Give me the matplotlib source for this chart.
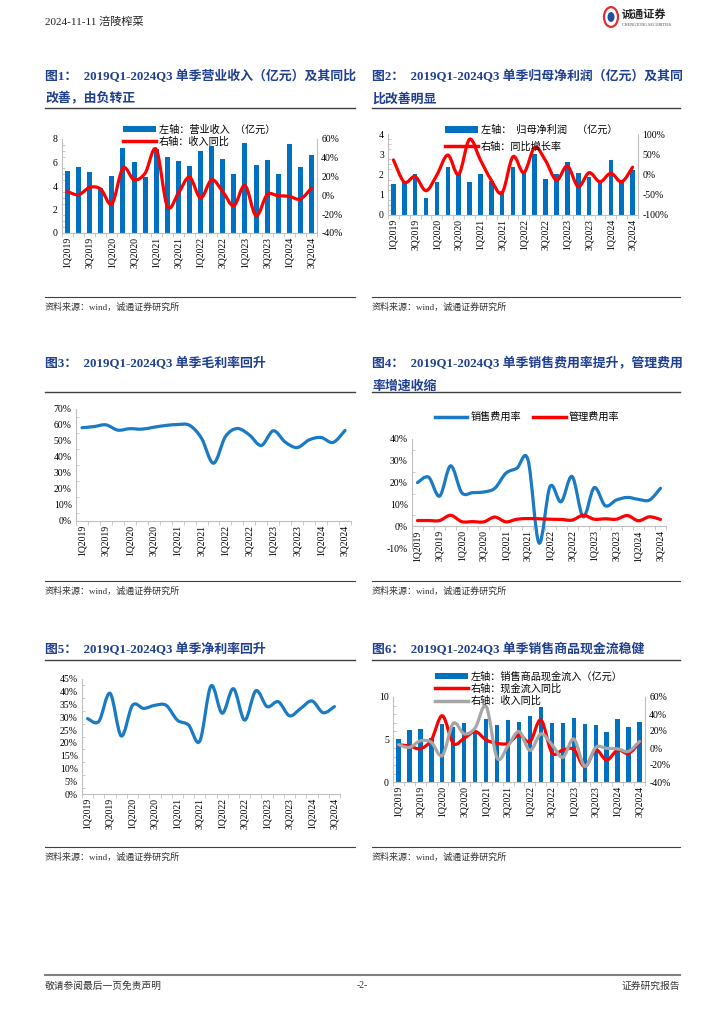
import numpy as np
import matplotlib
matplotlib.use('Agg')
import matplotlib.pyplot as plt
from matplotlib.path import Path
from matplotlib.patches import PathPatch, Rectangle, Circle
from matplotlib.lines import Line2D
from matplotlib.ticker import FuncFormatter, MultipleLocator

plt.rcParams['font.family'] = ['Liberation Serif', 'Noto Sans CJK SC']
plt.rcParams['axes.unicode_minus'] = False

quarters = ['1Q2019', '2Q2019', '3Q2019', '4Q2019', '1Q2020', '2Q2020', '3Q2020', '4Q2020',
            '1Q2021', '2Q2021', '3Q2021', '4Q2021', '1Q2022', '2Q2022', '3Q2022', '4Q2022',
            '1Q2023', '2Q2023', '3Q2023', '4Q2023', '1Q2024', '2Q2024', '3Q2024']

# fig1: revenue (100m yuan) and yoy
revenue = [5.3, 5.65, 5.2, 3.87, 4.86, 7.2, 6.05, 4.75, 7.17, 6.44, 6.13, 5.68,
           6.95, 7.4, 6.3, 5.06, 7.68, 5.79, 6.21, 5.03, 7.57, 5.62, 6.64]
revenue_yoy = [0.04, 0.007, 0.085, 0.067, -0.09, 0.29, 0.166, 0.237, 0.49, -0.117, 0.025, 0.194,
               -0.028, 0.166, 0.04, -0.11, 0.106, -0.216, 0.007, -0.004, -0.01, -0.039, 0.078]

# fig2: net profit attributable and yoy
profit = [1.53, 1.65, 2.02, 0.86, 1.63, 2.39, 2.06, 1.61, 2.02, 1.7, 1.2, 2.39,
          2.14, 3.0, 1.78, 2.02, 2.6, 2.09, 1.86, 1.65, 2.72, 1.65, 2.22]
profit_yoy = [0.36, -0.19, -0.05, -0.40, -0.01, 0.48, 0.0, 0.87, 0.36, -0.14, -0.45, 0.44,
              0.045, 0.67, 0.34, -0.14, 0.21, -0.30, 0.045, -0.18, 0.03, -0.18, 0.18]

# fig3: gross margin
gross_margin = [0.583, 0.59, 0.601, 0.568, 0.577, 0.574, 0.586, 0.597, 0.603, 0.598, 0.517, 0.361,
                0.528, 0.578, 0.538, 0.472, 0.564, 0.493, 0.459, 0.507, 0.522, 0.491, 0.566]

# fig4: expense ratios
selling_rate = [0.20, 0.225, 0.138, 0.277, 0.154, 0.154, 0.157, 0.174, 0.243, 0.266, 0.305, -0.077,
                0.182, 0.112, 0.228, 0.043, 0.177, 0.094, 0.12, 0.132, 0.123, 0.12, 0.174]
admin_rate = [0.026, 0.026, 0.026, 0.05, 0.021, 0.021, 0.02, 0.042, 0.02, 0.032, 0.035, 0.034,
              0.032, 0.031, 0.028, 0.05, 0.032, 0.034, 0.032, 0.049, 0.025, 0.043, 0.031]

# fig5: net margin
net_margin = [0.295, 0.284, 0.394, 0.227, 0.347, 0.335, 0.347, 0.347, 0.289, 0.27, 0.207, 0.423,
              0.316, 0.412, 0.289, 0.404, 0.342, 0.361, 0.306, 0.335, 0.364, 0.318, 0.342]

# fig6: cash received from sales and yoy
cash_in = [5.06, 6.1, 6.27, 5.18, 6.86, 6.5, 6.94, 5.9, 7.4, 6.7, 7.3, 7.1,
           7.76, 8.8, 6.9, 6.9, 7.57, 6.86, 6.75, 5.9, 7.4, 6.47, 7.1]
cash_yoy = [0.036, 0.024, -0.008, 0.095, 0.38, 0.055, 0.115, 0.194, 0.095, 0.055, 0.055, 0.154,
            0.075, 0.33, -0.055, -0.024, -0.016, -0.22, -0.024, -0.142, -0.024, -0.063, 0.063]

W, H = 724, 1024
BLUE = '#0070C0'
LBLUE = '#1A7AC4'
RED = '#FF0000'
GREY = '#A6A6A6'
AXC = '#BFBFBF'
NAVY = '#1F3F8F'

fig = plt.figure(figsize=(W / 100, H / 100), dpi=100)


def box(x0, y0, x1, y1):
    return fig.add_axes([x0 / W, 1 - y1 / H, (x1 - x0) / W, (y1 - y0) / H])


def ftext(x, y, s, **kw):
    fig.text(x / W, 1 - y / H, s, **kw)


def hline(x0, x1, y, color='#404040', lw=1.0):
    fig.add_artist(Line2D([x0 / W, x1 / W], [1 - y / H, 1 - y / H], color=color, lw=lw))


pct = FuncFormatter(lambda v, pos: f'{v * 100:.0f}%')


def smooth(ax, y, color, lw=2.3, z=3):
    y = np.asarray(y, float)
    n = len(y)
    x = np.arange(n, dtype=float)
    verts = [(x[0], y[0])]
    codes = [Path.MOVETO]
    for i in range(n - 1):
        i0 = max(i - 1, 0)
        i3 = min(i + 2, n - 1)
        c1 = (x[i] + (x[i + 1] - x[i0]) / 6, y[i] + (y[i + 1] - y[i0]) / 6)
        c2 = (x[i + 1] - (x[i3] - x[i]) / 6, y[i + 1] - (y[i3] - y[i]) / 6)
        verts += [c1, c2, (x[i + 1], y[i + 1])]
        codes += [Path.CURVE4] * 3
    ax.add_patch(PathPatch(Path(verts, codes), fill=False, ec=color, lw=lw,
                           capstyle='round', joinstyle='round', zorder=z))


def style(ax, ylim, step, minor, fmt=None):
    ax.set_xlim(-0.5, 22.5)
    ax.set_xticks(range(23))
    ax.set_xticklabels([q if i % 2 == 0 else '' for i, q in enumerate(quarters)],
                       rotation=90, fontsize=7)
    ax.set_xticks(np.arange(-0.5, 23, 1), minor=True)
    ax.tick_params(axis='x', which='major', length=0, pad=3)
    ax.tick_params(axis='x', which='minor', length=3, color=AXC, width=0.6)
    ax.set_ylim(*ylim)
    ax.yaxis.set_major_locator(MultipleLocator(step))
    ax.yaxis.set_minor_locator(MultipleLocator(minor))
    ax.tick_params(axis='y', which='major', length=0, labelsize=7, pad=3)
    ax.tick_params(axis='y', which='minor', length=2, direction='in', color=AXC, width=0.6)
    if fmt is not None:
        ax.yaxis.set_major_formatter(fmt)
    for s in ['top', 'right']:
        ax.spines[s].set_visible(False)
    for s in ['left', 'bottom']:
        ax.spines[s].set_color(AXC)
        ax.spines[s].set_linewidth(0.8)
    ax.patch.set_alpha(0)


def style_right(ax2, ylim, step):
    ax2.set_ylim(*ylim)
    ax2.yaxis.set_major_locator(MultipleLocator(step))
    ax2.yaxis.set_major_formatter(pct)
    ax2.tick_params(axis='y', length=0, labelsize=7, pad=3)
    for s in ['top', 'left', 'bottom']:
        ax2.spines[s].set_visible(False)
    ax2.spines['right'].set_color(AXC)
    ax2.spines['right'].set_linewidth(0.8)


def bar_handle():
    return Rectangle((0, 0), 1, 1, fc=BLUE, ec='none')


def line_handle(c):
    return Line2D([], [], color=c, lw=2.5)


x = np.arange(23)

# header / footer
ftext(45, 22, '2024-11-11 涪陵榨菜', fontsize=8, va='center', color='#222222')
fig.add_artist(Circle((611 / W, 1 - 17 / H), 7 / W, transform=fig.transFigure,
                      fc='white', ec='#E03030', lw=1.6))
fig.add_artist(Circle((611 / W, 1 - 17 / H), 3.5 / W, transform=fig.transFigure,
                      fc='#2050A0', ec='none'))
ftext(622, 14, '诚通证券', fontsize=8, fontweight='bold', va='center', color='#222222')
ftext(622, 25, 'CHENGTONG SECURITIES', fontsize=3, va='center', color='#444444')
hline(45, 680, 975, color='#808080', lw=1.5)
ftext(45, 986, '敬请参阅最后一页免责声明', fontsize=7, va='center', color='#333333')
ftext(362, 986, '-2-', fontsize=7, va='center', ha='center', color='#333333')
ftext(680, 986, '证券研究报告', fontsize=7, va='center', ha='right', color='#333333')

# titles, rules and sources
tkw = dict(fontsize=9.3, fontweight='bold', color=NAVY, va='center')
ftext(45, 77, '图1：  2019Q1-2024Q3 单季营业收入（亿元）及其同比', **tkw)
ftext(45, 99, '改善，由负转正', **tkw)
ftext(372, 77, '图2：  2019Q1-2024Q3 单季归母净利润（亿元）及其同', **tkw)
ftext(372, 99, '比改善明显', **tkw)
ftext(45, 364, '图3：  2019Q1-2024Q3 单季毛利率回升', **tkw)
ftext(372, 364, '图4：  2019Q1-2024Q3 单季销售费用率提升，管理费用', **tkw)
ftext(372, 386, '率增速收缩', **tkw)
ftext(45, 650, '图5：  2019Q1-2024Q3 单季净利率回升', **tkw)
ftext(372, 650, '图6：  2019Q1-2024Q3 单季销售商品现金流稳健', **tkw)

for y_rule, y_src, y_txt in [(108, 297, 307), (392, 581, 591), (660, 847, 857)]:
    for x0, x1 in [(45, 355), (372, 680)]:
        hline(x0, x1, y_rule, lw=1.0)
        hline(x0, x1, y_src, lw=0.8)
        ftext(x0, y_txt, '资料来源：wind，诚通证券研究所', fontsize=6.5, va='center', color='#333333')

# fig1
ax = box(62, 139, 317, 233)
ax.bar(x, revenue, width=0.45, color=BLUE, zorder=2)
style(ax, (0, 8), 2, 0.5)
ax2 = ax.twinx()
style_right(ax2, (-0.4, 0.6), 0.2)
smooth(ax2, revenue_yoy, RED)
fig.legend([bar_handle(), line_handle(RED)], ['左轴：营业收入  （亿元）', '右轴：收入同比'],
           loc='upper left', bbox_to_anchor=(118 / W, 1 - 119 / H), frameon=False,
           fontsize=7.3, handlelength=3.2, handleheight=0.6, labelspacing=0.2,
           handletextpad=0.3, borderpad=0)

# fig2
ax = box(388, 134, 638, 215)
ax.bar(x, profit, width=0.42, color=BLUE, zorder=2)
style(ax, (0, 4), 1, 0.25)
ax2 = ax.twinx()
style_right(ax2, (-1, 1), 0.5)
smooth(ax2, profit_yoy, RED)
fig.legend([bar_handle(), line_handle(RED)], ['左轴：  归母净利润    （亿元）', '右轴：同比增长率'],
           loc='upper left', bbox_to_anchor=(440 / W, 1 - 120 / H), frameon=False,
           fontsize=7.3, handlelength=3.2, handleheight=0.6, labelspacing=0.6,
           handletextpad=0.3, borderpad=0)

# fig3
ax = box(76, 409, 351, 521)
style(ax, (0, 0.7), 0.1, 0.05, fmt=pct)
smooth(ax, gross_margin, LBLUE)

# fig4
ax = box(412, 439, 666, 548)
ax.spines['bottom'].set_position(('data', 0))
style(ax, (-0.1, 0.4), 0.1, 0.05, fmt=pct)
smooth(ax, selling_rate, LBLUE)
smooth(ax, admin_rate, RED)
fig.legend([line_handle(LBLUE), line_handle(RED)], ['销售费用率', '管理费用率'],
           loc='center', bbox_to_anchor=(527 / W, 1 - 417 / H), ncol=2, frameon=False,
           fontsize=7.3, handlelength=3.2, handletextpad=0.3, columnspacing=1.2, borderpad=0)

# fig5
ax = box(82, 679, 340, 794)
style(ax, (0, 0.45), 0.05, 0.025, fmt=pct)
smooth(ax, net_margin, LBLUE)

# fig6
ax = box(393, 697, 645, 782)
ax.bar(x, cash_in, width=0.4, color=BLUE, zorder=2)
style(ax, (0, 10), 5, 1)
ax2 = ax.twinx()
style_right(ax2, (-0.4, 0.6), 0.2)
smooth(ax2, cash_yoy, RED)
smooth(ax2, revenue_yoy, GREY, z=4)
fig.legend([bar_handle(), line_handle(RED), line_handle(GREY)],
           ['左轴：销售商品现金流入（亿元）', '右轴：现金流入同比', '右轴：收入同比'],
           loc='upper left', bbox_to_anchor=(430 / W, 1 - 666 / H), frameon=False,
           fontsize=7.3, handlelength=3.2, handleheight=0.6, labelspacing=0.2,
           handletextpad=0.3, borderpad=0)

fig.savefig('out.png', dpi=100)
